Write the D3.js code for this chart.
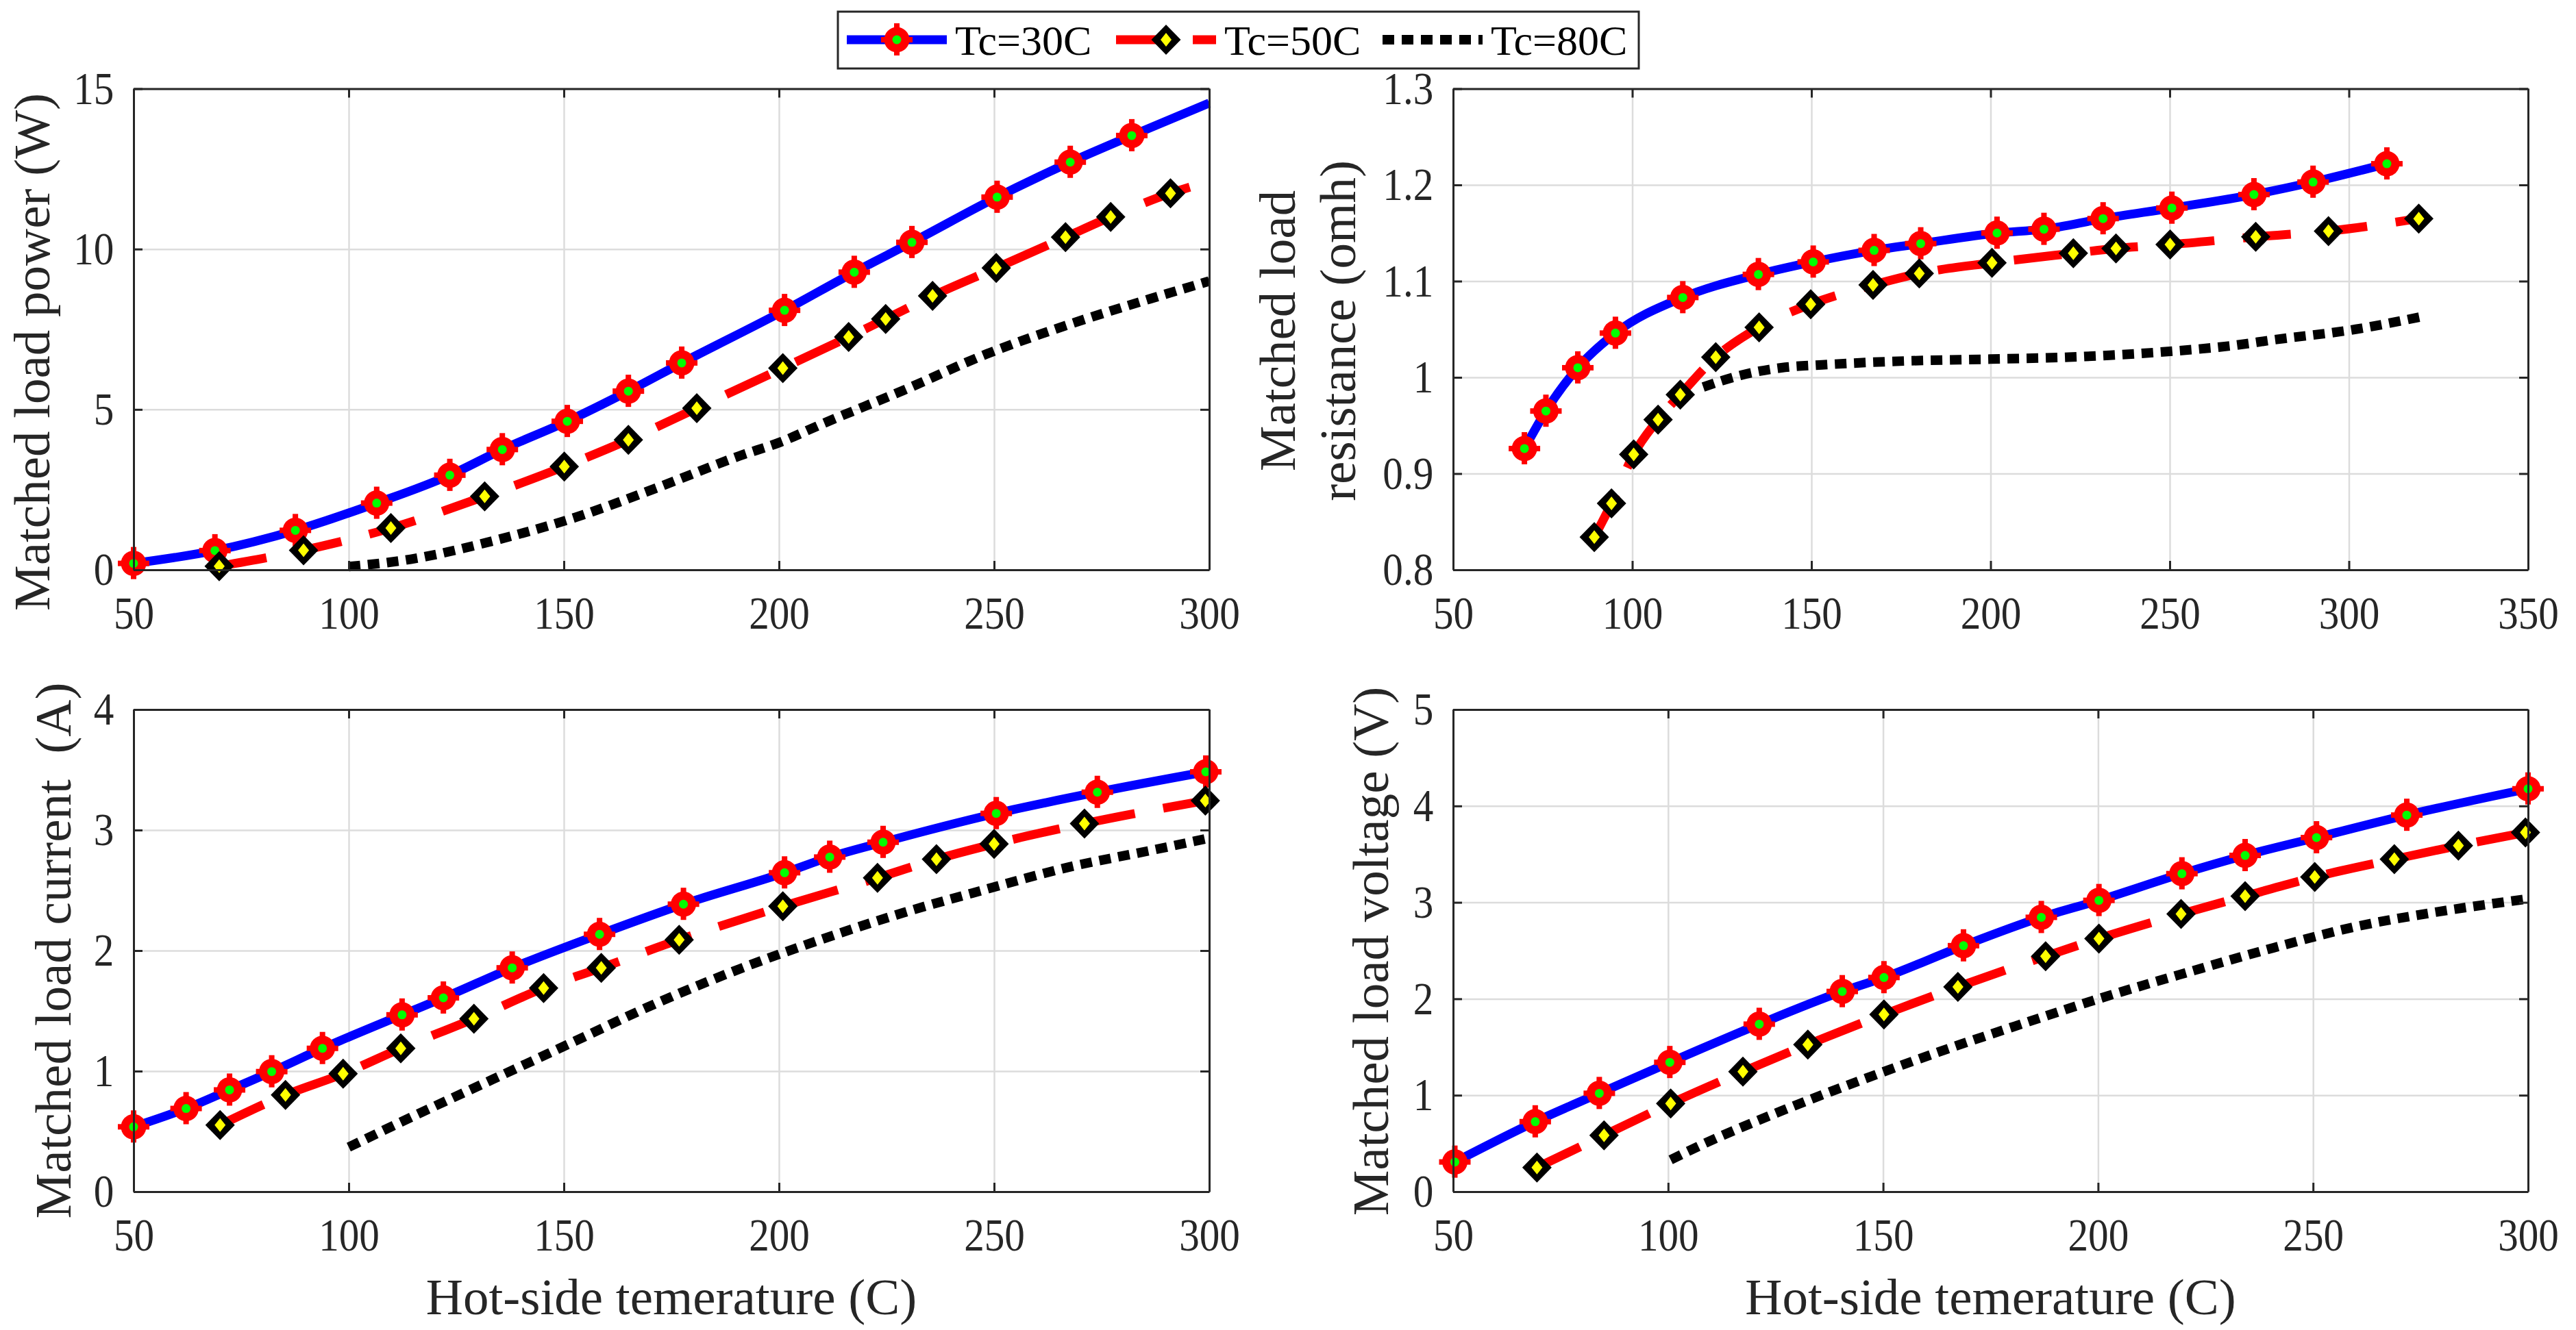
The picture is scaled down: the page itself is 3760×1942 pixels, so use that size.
<!DOCTYPE html>
<html>
<head>
<meta charset="utf-8">
<script src="https://cdn.jsdelivr.net/npm/d3@7"></script>
<style>
  html, body { margin: 0; padding: 0; background: #ffffff; }
  svg { display: block; }
  svg text { font-family: "Liberation Serif", "Times New Roman", serif; }
</style>
</head>
<body>
<svg id="chart" width="3760" height="1942"></svg>
<script>
// ---------------- DATA ----------------
const seriesNames = ["Tc=30C", "Tc=50C", "Tc=80C"];

const xTicksA = [50, 100, 150, 200, 250, 300];
const xTicksB = [50, 100, 150, 200, 250, 300, 350];
const yTicksPower = [0, 5, 10, 15];
const yTicksRes = [0.8, 0.9, 1.0, 1.1, 1.2, 1.3];
const yTicksCur = [0, 1, 2, 3, 4];
const yTicksVolt = [0, 1, 2, 3, 4, 5];

// Matched load power (W)
const powerTc30 = [[50,0.2],[68.9,0.6],[87.6,1.23],[106.5,2.08],[123.5,2.95],[135.7,3.75],[150.8,4.63],[165.0,5.57],[177.4,6.45],[201.3,8.09],[217.5,9.28],[230.9,10.21],[250.7,11.62],[267.7,12.71],[282.0,13.54]];
const powerTc30End = [300, 14.55];
const powerTc50 = [[69.9,0.11],[89.5,0.61],[109.8,1.30],[131.6,2.29],[150.1,3.22],[165.0,4.05],[180.9,5.04],[200.9,6.29],[216.2,7.26],[224.8,7.82],[235.7,8.54],[250.5,9.41],[266.6,10.37],[277.1,11.0],[291.0,11.74]];
const powerTc50End = [300, 12.11];
const powerTc80 = [[100,0.1],[114.4,0.33],[133.5,0.9],[152.6,1.63],[171.7,2.56],[190.8,3.55],[200.3,3.98],[209.9,4.54],[229,5.6],[248.1,6.72],[267.2,7.64],[286.3,8.45],[300,9.0]];

// Matched load resistance (omh)
const resTc30 = [[69.9,0.926],[75.9,0.965],[84.8,1.010],[95.3,1.046],[114.1,1.083],[135.2,1.107],[150.5,1.120],[167.5,1.132],[180.5,1.139],[201.8,1.150],[214.9,1.154],[231.4,1.165],[250.6,1.176],[273.5,1.190],[290.0,1.203],[310.6,1.222]];
const resTc50 = [[89.4,0.834],[94.2,0.869],[100.4,0.920],[107.2,0.956],[113.4,0.982],[123.3,1.021],[135.4,1.052],[149.8,1.076],[167.2,1.096],[180.1,1.108],[200.4,1.119],[223.1,1.129],[235.0,1.134],[250.1,1.138],[274.0,1.146],[294.3,1.152],[319.5,1.165]];
const resTc80 = [[119.8,0.990],[130.1,1.002],[141.6,1.010],[153.0,1.013],[175.9,1.017],[200.2,1.019],[221.7,1.021],[233.2,1.023],[250.1,1.027],[267.5,1.033],[279.0,1.039],[301.9,1.050],[320.2,1.063]];

// Matched load current (A)
const curTc30 = [[50,0.538],[62.2,0.690],[72.3,0.844],[82.1,0.996],[93.9,1.189],[112.4,1.467],[122.0,1.608],[138.0,1.857],[158.3,2.135],[177.8,2.385],[201.3,2.646],[211.8,2.776],[224.2,2.899],[250.5,3.138],[274.0,3.314],[299.2,3.483]];
const curTc50 = [[70.1,0.552],[85.3,0.802],[98.7,0.978],[112.1,1.189],[129.1,1.435],[145.3,1.689],[158.7,1.857],[176.8,2.090],[200.9,2.368],[222.9,2.603],[236.6,2.758],[250.0,2.885],[271.0,3.054],[299.1,3.244]];
const curTc80 = [[100,0.369],[114.4,0.616],[133.5,0.932],[152.6,1.249],[171.7,1.566],[190.8,1.847],[209.9,2.093],[229.0,2.315],[248.1,2.508],[267.2,2.691],[286.3,2.830],[299.2,2.927]];

// Matched load voltage (V)
const voltTc30 = [[50.4,0.308],[69.1,0.726],[84.0,1.020],[100.4,1.341],[121.2,1.737],[140.5,2.076],[150.2,2.221],[168.7,2.551],[186.8,2.845],[200.2,3.021],[219.5,3.298],[234.2,3.487],[250.8,3.672],[271.8,3.905],[300,4.178]];
const voltTc50 = [[69.5,0.251],[85.1,0.585],[100.6,0.915],[117.4,1.245],[132.5,1.526],[150.2,1.838],[167.4,2.124],[187.8,2.441],[200.2,2.625],[219.3,2.880],[234.2,3.065],[250.4,3.263],[268.9,3.448],[283.8,3.588],[299.4,3.725]];
const voltTc80 = [[100.6,0.330],[107.3,0.475],[126.3,0.836],[145.4,1.165],[164.5,1.473],[183.6,1.759],[200.2,2.001],[221.8,2.287],[240.8,2.529],[259.9,2.748],[279.0,2.902],[299.6,3.034]];

const xTitle = "Hot-side temerature (C)";

// ---------------- STYLE ----------------
const FONT = '"Liberation Serif", "Times New Roman", serif';
const styles = [
  { color: "#0000ff", width: 13, dash: null, marker: "plus" },
  { color: "#ff0000", width: 13, dash: "70,42", marker: "diamond" },
  { color: "#000000", width: 14, dash: "17,11", marker: null }
];

const svg = d3.select("#chart");
svg.append("rect").attr("width", 3760).attr("height", 1942).attr("fill", "#fff");

function drawMarker(g, type, x, y) {
  if (type === "plus") {
    const m = g.append("g").attr("transform", `translate(${x},${y})`);
    m.append("circle").attr("r", 18.5).attr("fill", "#ff0000");
    m.append("rect").attr("x", -4).attr("y", -24).attr("width", 8).attr("height", 47).attr("fill", "#ff0000");
    m.append("rect").attr("x", -23).attr("y", -4).attr("width", 46).attr("height", 8).attr("fill", "#ff0000");
    m.append("circle").attr("r", 6.5).attr("fill", "#00ff00");
  } else if (type === "diamond") {
    const m = g.append("g").attr("transform", `translate(${x},${y})`);
    m.append("path").attr("d", "M0,-22 L21.5,0 L0,22 L-21.5,0 Z").attr("fill", "#000");
    m.append("path").attr("d", "M0,-10 L8,0 L0,10 L-8,0 Z").attr("fill", "#ffff00");
  }
}

const panels = [
  { x0: 195, x1: 1765, y0: 129.5, y1: 832, xDom: [50, 300], yDom: [0, 15], xT: xTicksA, yT: yTicksPower,
    series: [powerTc30.concat([powerTc30End]), powerTc50.concat([powerTc50End]), powerTc80],
    markers: [powerTc30, powerTc50, []],
    yTitle: ["Matched load power (W)"], yTitleX: [72], yTitleY: 514, xTitle: false },
  { x0: 2121, x1: 3690, y0: 129.5, y1: 832, xDom: [50, 350], yDom: [0.8, 1.3], xT: xTicksB, yT: yTicksRes,
    series: [resTc30, resTc50, resTc80],
    markers: [resTc30, resTc50, []],
    yTitle: ["Matched load", "resistance (omh)"], yTitleX: [1890, 1978], yTitleY: 483, xTitle: false },
  { x0: 195, x1: 1765, y0: 1036, y1: 1740, xDom: [50, 300], yDom: [0, 4], xT: xTicksA, yT: yTicksCur,
    series: [curTc30, curTc50, curTc80],
    markers: [curTc30, curTc50, []],
    yTitle: ["Matched load current\u00a0\u00a0(A)"], yTitleX: [103], yTitleY: 1388, xTitle: true },
  { x0: 2121, x1: 3690, y0: 1036, y1: 1740, xDom: [50, 300], yDom: [0, 5], xT: xTicksA, yT: yTicksVolt,
    series: [voltTc30, voltTc50, voltTc80],
    markers: [voltTc30, voltTc50, []],
    yTitle: ["Matched load voltage (V)"], yTitleX: [2026], yTitleY: 1389, xTitle: true }
];

const fmt = d => String(+d.toFixed(1));

panels.forEach(p => {
  const W = p.x1 - p.x0, H = p.y1 - p.y0;
  const x = d3.scaleLinear().domain(p.xDom).range([0, W]);
  const y = d3.scaleLinear().domain(p.yDom).range([H, 0]);
  const g = svg.append("g").attr("transform", `translate(${p.x0},${p.y0})`);

  // grid
  const gx = g.append("g").attr("transform", `translate(0,${H})`)
    .call(d3.axisBottom(x).tickValues(p.xT).tickSize(-H).tickFormat(""));
  const gy = g.append("g")
    .call(d3.axisLeft(y).tickValues(p.yT).tickSize(-W).tickFormat(""));
  [gx, gy].forEach(a => {
    a.select(".domain").remove();
    a.selectAll("line").attr("stroke", "#dcdcdc").attr("stroke-width", 2.5);
  });

  // series
  const line = d3.line().x(d => x(d[0])).y(d => y(d[1])).curve(d3.curveMonotoneX);
  p.series.forEach((s, i) => {
    const st = styles[i];
    g.append("path").datum(s).attr("d", line)
      .attr("fill", "none").attr("stroke", st.color).attr("stroke-width", st.width)
      .attr("stroke-dasharray", st.dash).attr("stroke-linecap", "butt").attr("stroke-linejoin", "round");
    if (st.marker) p.markers[i].forEach(d => drawMarker(g, st.marker, x(d[0]), y(d[1])));
  });

  // axes (ticks inward on all sides)
  const axB = g.append("g").attr("transform", `translate(0,${H})`)
    .call(d3.axisBottom(x).tickValues(p.xT).tickSizeInner(-13).tickSizeOuter(0).tickPadding(38).tickFormat(fmt));
  const axL = g.append("g")
    .call(d3.axisLeft(y).tickValues(p.yT).tickSizeInner(-13).tickSizeOuter(0).tickPadding(33).tickFormat(fmt));
  const axT = g.append("g")
    .call(d3.axisTop(x).tickValues(p.xT).tickSizeInner(-13).tickSizeOuter(0).tickFormat(""));
  const axR = g.append("g").attr("transform", `translate(${W},0)`)
    .call(d3.axisRight(y).tickValues(p.yT).tickSizeInner(-13).tickSizeOuter(0).tickFormat(""));
  [axB, axL, axT, axR].forEach(a => {
    a.attr("font-family", null).attr("font-size", null);
    a.select(".domain").attr("stroke", "#262626").attr("stroke-width", 3);
    a.selectAll(".tick line").attr("stroke", "#262626").attr("stroke-width", 3);
    a.selectAll("text").style("font-family", FONT).style("font-size", "68px").attr("fill", "#262626")
      .attr("transform", "scale(0.87,1)");
  });

  // y title
  p.yTitle.forEach((t, k) => {
    const bx = p.yTitleX[k];
    svg.append("text").attr("x", bx).attr("y", p.yTitleY)
      .attr("transform", `rotate(-90,${bx},${p.yTitleY})`)
      .attr("text-anchor", "middle").style("font-family", FONT).style("font-size", "75px")
      .attr("fill", "#262626").text(t);
  });
  if (p.xTitle) {
    svg.append("text").attr("x", (p.x0 + p.x1) / 2).attr("y", 1919)
      .attr("text-anchor", "middle").style("font-family", FONT).style("font-size", "75px")
      .attr("fill", "#262626").text(xTitle);
  }
});

// ---------------- LEGEND ----------------
const leg = svg.append("g");
leg.append("rect").attr("x", 1223).attr("y", 17).attr("width", 1169).attr("height", 83)
  .attr("fill", "#fff").attr("stroke", "#262626").attr("stroke-width", 3);
const legX = [1236, 1629, 2018];
seriesNames.forEach((name, i) => {
  const st = styles[i];
  const lx = legX[i];
  leg.append("line").attr("x1", lx).attr("x2", lx + 146).attr("y1", 58).attr("y2", 58)
    .attr("stroke", st.color).attr("stroke-width", st.width).attr("stroke-dasharray", st.dash);
  if (st.marker) drawMarker(leg, st.marker, lx + 73, 58);
  leg.append("text").attr("x", lx + 158).attr("y", 80).style("font-family", FONT)
    .style("font-size", "62px").attr("fill", "#000").text(name);
});
</script>
</body>
</html>
